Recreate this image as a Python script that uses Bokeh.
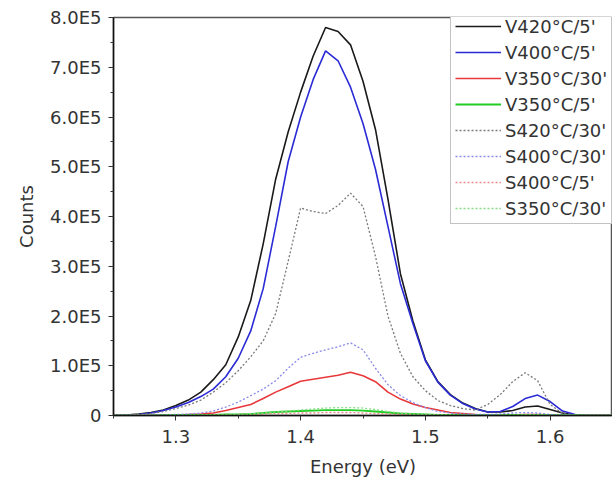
from bokeh.plotting import figure
from bokeh.models import FixedTicker, Legend, LegendItem
from bokeh.embed import file_html
from bokeh.resources import INLINE
import numpy as np

# Energy grid (eV)
energy = [1.25, 1.26, 1.27, 1.28, 1.29, 1.30, 1.31, 1.32, 1.33, 1.34,
          1.35, 1.36, 1.37, 1.38, 1.39, 1.40, 1.41, 1.42, 1.43, 1.44,
          1.45, 1.46, 1.47, 1.48, 1.49, 1.50, 1.51, 1.52, 1.53, 1.54,
          1.55, 1.56, 1.57, 1.58, 1.59, 1.60, 1.61, 1.62, 1.63, 1.64, 1.65]

# Counts, in units of 1E5
v420_5 = [0.00, 0.01, 0.03, 0.06, 0.11, 0.20, 0.31, 0.47, 0.72, 1.02,
          1.58, 2.31, 3.45, 4.75, 5.70, 6.50, 7.22, 7.80, 7.72, 7.45,
          6.72, 5.75, 4.35, 2.85, 1.90, 1.12, 0.68, 0.42, 0.25, 0.14,
          0.07, 0.07, 0.10, 0.17, 0.19, 0.12, 0.05, 0.01, 0.00, 0.00, 0.00]
v400_5 = [0.00, 0.01, 0.02, 0.05, 0.10, 0.17, 0.26, 0.38, 0.53, 0.78,
          1.15, 1.70, 2.55, 3.80, 5.10, 6.00, 6.75, 7.33, 7.13, 6.60,
          5.87, 4.95, 3.80, 2.65, 1.85, 1.10, 0.67, 0.41, 0.24, 0.13,
          0.07, 0.08, 0.18, 0.34, 0.41, 0.28, 0.09, 0.02, 0.00, 0.00, 0.00]
v350_30 = [0.00, 0.00, 0.00, 0.00, 0.01, 0.01, 0.02, 0.03, 0.05, 0.10,
           0.16, 0.22, 0.34, 0.47, 0.58, 0.69, 0.73, 0.77, 0.81, 0.87,
           0.80, 0.68, 0.47, 0.33, 0.23, 0.16, 0.11, 0.06, 0.04, 0.02,
           0.01, 0.01, 0.01, 0.02, 0.02, 0.01, 0.00, 0.00, 0.00, 0.00, 0.00]
v350_5 = [0.00, 0.00, 0.00, 0.00, 0.01, 0.01, 0.01, 0.01, 0.01, 0.02,
          0.02, 0.03, 0.05, 0.07, 0.08, 0.09, 0.10, 0.11, 0.11, 0.11,
          0.10, 0.08, 0.06, 0.04, 0.03, 0.02, 0.01, 0.01, 0.01, 0.01,
          0.01, 0.01, 0.01, 0.01, 0.01, 0.01, 0.01, 0.01, 0.00, 0.00, 0.00]
s420_30 = [0.00, 0.00, 0.02, 0.04, 0.08, 0.14, 0.21, 0.31, 0.47, 0.66,
           0.90, 1.18, 1.50, 2.05, 3.10, 4.17, 4.10, 4.06, 4.22, 4.47,
           4.20, 3.20, 2.00, 1.25, 0.78, 0.50, 0.30, 0.20, 0.14, 0.11,
           0.22, 0.42, 0.68, 0.86, 0.70, 0.22, 0.04, 0.01, 0.00, 0.00, 0.00]
s400_30 = [0.00, 0.00, 0.00, 0.01, 0.01, 0.02, 0.03, 0.05, 0.09, 0.17,
           0.27, 0.40, 0.53, 0.70, 0.95, 1.17, 1.25, 1.32, 1.38, 1.46,
           1.32, 0.95, 0.62, 0.40, 0.26, 0.16, 0.08, 0.05, 0.03, 0.02,
           0.02, 0.03, 0.05, 0.06, 0.05, 0.02, 0.01, 0.00, 0.00, 0.00, 0.00]
s400_5 = [0.00, 0.00, 0.00, 0.00, 0.00, 0.00, 0.00, 0.01, 0.01, 0.01,
          0.02, 0.02, 0.03, 0.04, 0.04, 0.05, 0.05, 0.06, 0.06, 0.06,
          0.05, 0.04, 0.03, 0.02, 0.02, 0.01, 0.01, 0.00, 0.00, 0.00,
          0.00, 0.00, 0.00, 0.01, 0.01, 0.00, 0.00, 0.00, 0.00, 0.00, 0.00]
s350_30 = [0.00, 0.00, 0.00, 0.00, 0.00, 0.00, 0.00, 0.00, 0.01, 0.01,
           0.02, 0.03, 0.05, 0.07, 0.09, 0.11, 0.13, 0.15, 0.16, 0.16,
           0.15, 0.12, 0.08, 0.05, 0.03, 0.02, 0.01, 0.01, 0.00, 0.00,
           0.00, 0.00, 0.00, 0.01, 0.01, 0.00, 0.00, 0.00, 0.00, 0.00, 0.00]

labels = ["V420°C/5'", "V400°C/5'", "V350°C/30'", "V350°C/5'",
          "S420°C/30'", "S400°C/30'", "S400°C/5'", "S350°C/30'"]
series = [v420_5, v400_5, v350_30, v350_5, s420_30, s400_30, s400_5, s350_30]
colors = ["#1a1a1a", "#2b2bd6", "#e8383a", "#22cc22",
          "#7a7a7a", "#8a8ae8", "#f08a8a", "#88dd88"]
dashes = ["solid", "solid", "solid", "solid", "2 2", "2 2", "2 2", "2 2"]
widths = [1.6, 1.6, 1.6, 1.8, 1.3, 1.3, 1.3, 1.3]

y_ticks = [0, 100000, 200000, 300000, 400000, 500000, 600000, 700000, 800000]
y_tick_labels = ["0", "1.0E5", "2.0E5", "3.0E5", "4.0E5", "5.0E5", "6.0E5", "7.0E5", "8.0E5"]
x_ticks = [1.3, 1.4, 1.5, 1.6]

FONT = "DejaVu Sans"

p = figure(width=612, height=484, x_range=(1.25, 1.65), y_range=(0, 800000),
           output_backend="svg", toolbar_location=None,
           min_border_left=113, min_border_right=0, min_border_top=17,
           min_border_bottom=69)
p.grid.visible = False
p.outline_line_color = "#555555"
p.outline_line_width = 1.5

p.xaxis.ticker = FixedTicker(ticks=x_ticks, minor_ticks=[1.25, 1.35, 1.45, 1.55, 1.65])
p.yaxis.ticker = FixedTicker(ticks=y_ticks,
                             minor_ticks=[50000, 150000, 250000, 350000, 450000,
                                          550000, 650000, 750000])
p.yaxis.major_label_overrides = {t: l for t, l in zip(y_ticks, y_tick_labels)}

p.xaxis.axis_label = "Energy (eV)"
p.yaxis.axis_label = "Counts"
for ax in (p.xaxis[0], p.yaxis[0]):
    ax.axis_line_color = "#111111"
    ax.axis_line_width = 1.5
    ax.major_tick_line_color = "#333333"
    ax.minor_tick_line_color = "#333333"
    ax.major_tick_in = 0
    ax.major_tick_out = 5
    ax.minor_tick_in = 0
    ax.minor_tick_out = 3
    ax.major_label_text_font = FONT
    ax.major_label_text_font_size = "18px"
    ax.major_label_text_color = "#333333"
    ax.axis_label_text_font = FONT
    ax.axis_label_text_font_size = "18px"
    ax.axis_label_text_font_style = "normal"
    ax.axis_label_text_color = "#333333"
p.xaxis.major_label_standoff = 9
p.xaxis.axis_label_standoff = 10
p.yaxis.major_label_standoff = 7
p.yaxis.axis_label_standoff = 10

x = np.array(energy)
renderers = []
for vals, c, d, w in zip(series, colors, dashes, widths):
    y = np.array(vals) * 1e5
    r = p.line(x, y, line_color=c, line_dash=d, line_width=w)
    renderers.append(r)

items = [LegendItem(label=l, renderers=[r]) for l, r in zip(labels, renderers)]
legend = Legend(items=items, location=(337, 191))
legend.label_text_font = FONT
legend.label_text_font_size = "18px"
legend.label_text_color = "#333333"
legend.glyph_width = 46
legend.glyph_height = 22
legend.label_height = 22
legend.label_standoff = 4
legend.spacing = 4
legend.padding = 4
legend.margin = 0
legend.border_line_color = "#888888"
legend.border_line_width = 1.5
legend.background_fill_alpha = 1.0
p.add_layout(legend)

open("out.html", "w").write(file_html(p, INLINE))
